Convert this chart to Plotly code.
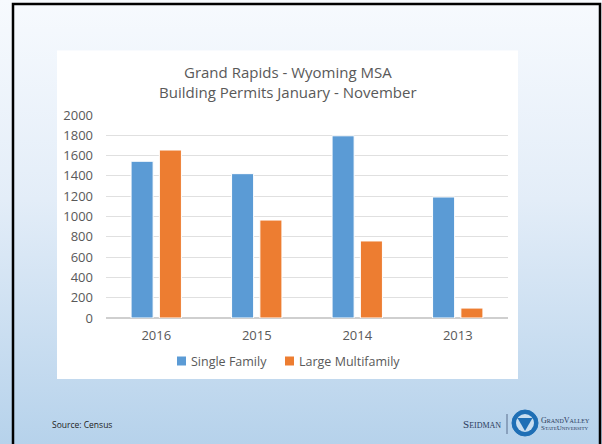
import base64
import plotly.graph_objects as go

# ---- data ----
years = ["2016", "2015", "2014", "2013"]
single_family = [1544, 1422, 1795, 1192]
large_multifamily = [1655, 965, 759, 98]
y_ticks = [0, 200, 400, 600, 800, 1000, 1200, 1400, 1600, 1800, 2000]
series_names = ["Single Family", "Large Multifamily"]
series_colors = ["#5b9bd5", "#ed7d31"]

W, H = 602, 444
L, R, T, B = 106, 508, 115, 318  # plot area in pixels

def px(x):
    return (x - L) / (R - L)

def py(y):
    return (B - y) / (B - T)

TXT = "#595959"
FONT = "Open Sans"

fig = go.Figure()
for name, vals, col in zip(series_names, [single_family, large_multifamily], series_colors):
    fig.add_trace(go.Bar(name=name, x=years, y=vals,
                         marker=dict(color=col, line=dict(color="white", width=1))))

# gradient background image (svg data uri)
svg = ('<svg xmlns="http://www.w3.org/2000/svg" width="602" height="444">'
       '<defs><linearGradient id="g" x1="0" y1="0" x2="0" y2="1">'
       '<stop offset="0" stop-color="#f7fafe"/>'
       '<stop offset="0.45" stop-color="#e3edf8"/>'
       '<stop offset="1" stop-color="#b6d2eb"/>'
       '</linearGradient></defs>'
       '<rect width="602" height="444" fill="url(#g)"/></svg>')
uri = "data:image/svg+xml;base64," + base64.b64encode(svg.encode()).decode()

fig.update_layout(
    width=W, height=H,
    margin=dict(l=L, r=W - R, t=T, b=H - B, pad=0),
    paper_bgcolor="white",
    plot_bgcolor="rgba(0,0,0,0)",
    barmode="group",
    bargap=0.437,
    bargroupgap=0.22,
    showlegend=False,
    images=[dict(source=uri, xref="paper", yref="paper", x=px(0), y=py(0),
                 sizex=px(W) - px(0), sizey=py(0) - py(H), sizing="stretch",
                 xanchor="left", yanchor="top", layer="below")],
    xaxis=dict(showgrid=False, showline=False, ticks="", tickfont=dict(family=FONT, size=13, color=TXT),
               ticklabelstandoff=8, fixedrange=True),
    yaxis=dict(range=[0, 2000], tickvals=y_ticks, showgrid=True, gridcolor="#e0e0e0", gridwidth=1,
               zeroline=True, zerolinecolor="#cfcfcf", zerolinewidth=1.5, showline=False,
               tickfont=dict(family=FONT, size=13, color=TXT), ticks="", ticklabelstandoff=12,
               fixedrange=True),
    font=dict(family=FONT, color=TXT),
)

shapes = [
    # white chart area
    dict(type="rect", xref="paper", yref="paper", x0=px(57), x1=px(518), y0=py(379), y1=py(50.5),
         fillcolor="white", line=dict(width=0), layer="below"),
    # slide border
    dict(type="rect", xref="paper", yref="paper", x0=px(13), x1=px(600), y0=py(470), y1=py(4),
         fillcolor="rgba(0,0,0,0)", line=dict(color="black", width=2.5), layer="above"),
    # logo separator
    dict(type="line", xref="paper", yref="paper", x0=px(507), x1=px(507), y0=py(414), y1=py(434),
         line=dict(color="#5a6f8e", width=1)),
    # logo circle
    dict(type="circle", xref="paper", yref="paper", x0=px(512), x1=px(538), y0=py(436), y1=py(410),
         fillcolor="#1f6fb5", line=dict(color="#1f6fb5", width=1)),
    dict(type="circle", xref="paper", yref="paper", x0=px(516), x1=px(534), y0=py(432), y1=py(414),
         fillcolor="#c9def0", line=dict(width=0)),
    dict(type="path", xref="paper", yref="paper",
         path=f"M {px(517.5)},{py(418)} L {px(532.5)},{py(418)} L {px(525)},{py(431)} Z",
         fillcolor="#1f6fb5", line=dict(width=0)),
]

# legend (swatches + labels)
legend_x = [177, 285]
ann = []
for lx, name, col in zip(legend_x, series_names, series_colors):
    shapes.append(dict(type="rect", xref="paper", yref="paper", x0=px(lx), x1=px(lx + 9),
                       y0=py(365.5), y1=py(356.5), fillcolor=col, line=dict(width=0)))
    ann.append(dict(text=name, x=px(lx + 11.5), y=py(361), xref="paper", yref="paper",
                    showarrow=False, xanchor="left", yanchor="middle",
                    font=dict(family=FONT, size=12.5, color=TXT)))
fig.update_layout(shapes=shapes)

ann += [
    dict(text="Grand Rapids - Wyoming MSA", x=px(287.5), y=py(71.5), xref="paper", yref="paper",
         showarrow=False, xanchor="center", yanchor="middle",
         font=dict(family=FONT, size=15, color=TXT)),
    dict(text="Building Permits January - November", x=px(287.5), y=py(91.5), xref="paper", yref="paper",
         showarrow=False, xanchor="center", yanchor="middle",
         font=dict(family=FONT, size=15, color=TXT)),
    dict(text="Source: Census", x=px(50), y=py(424), xref="paper", yref="paper",
         showarrow=False, xanchor="left", yanchor="middle",
         font=dict(family=FONT, size=8.5, color="#222222")),
    dict(text="S<span style='font-size:8px'>EIDMAN</span>", x=px(503), y=py(424), xref="paper", yref="paper",
         showarrow=False, xanchor="right", yanchor="middle",
         font=dict(family="Liberation Serif", size=11, color="#2b3b5c")),
    dict(text="G<span style='font-size:6px'>RAND</span>V<span style='font-size:6px'>ALLEY</span>",
         x=px(538.5), y=py(420), xref="paper", yref="paper",
         showarrow=False, xanchor="left", yanchor="middle",
         font=dict(family="Liberation Serif", size=8, color="#2b3b5c")),
    dict(text="S<span style='font-size:5px'>TATE</span>U<span style='font-size:5px'>NIVERSITY</span>",
         x=px(538.5), y=py(428), xref="paper", yref="paper",
         showarrow=False, xanchor="left", yanchor="middle",
         font=dict(family="Liberation Serif", size=7, color="#2b3b5c")),
]
fig.update_layout(annotations=ann)

fig.write_html("out.html", config={"displayModeBar": False},
               post_script="document.body.style.margin='0';document.body.style.overflow='hidden';")
